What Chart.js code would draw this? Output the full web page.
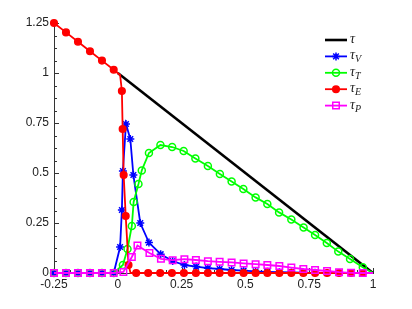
<!doctype html>
<html>
<head>
  <meta charset="UTF-8">
  <script src="https://cdn.jsdelivr.net/npm/chart.js"></script>
  <style>
    html, body { margin: 0; padding: 0; background: #fff; }
    #wrap { width: 412px; height: 309px; }
  </style>
</head>
<body>
<div id="wrap"><canvas id="chart"></canvas></div>
<script>
  // values
  const tauX = [0, 1];
  const tau = [1, 0];

  const vX = [-0.25, -0.203, -0.156, -0.109, -0.062, -0.016, 0.009, 0.016, 0.02, 0.032, 0.049, 0.061, 0.088,
    0.122, 0.168, 0.215, 0.261, 0.307, 0.353, 0.399, 0.446, 0.493, 0.54, 0.586, 0.633, 0.68, 0.727, 0.773,
    0.82, 0.867, 0.914, 0.96, 1];
  const tauV = [0, 0, 0, 0, 0, 0, 0.13, 0.315, 0.51, 0.745, 0.67, 0.49, 0.25,
    0.152, 0.094, 0.06, 0.04, 0.032, 0.024, 0.02, 0.015, 0.012, 0.008, 0.006, 0.004, 0.003, 0.002, 0.001,
    0, 0, 0, 0, 0];

  const tX = [-0.25, -0.203, -0.156, -0.109, -0.062, -0.016, 0.02, 0.038, 0.055, 0.062, 0.081, 0.094, 0.122,
    0.167, 0.213, 0.258, 0.304, 0.353, 0.4, 0.446, 0.492, 0.54, 0.586, 0.632, 0.68, 0.728, 0.773, 0.819,
    0.864, 0.91, 0.96, 1];
  const tauT = [0, 0, 0, 0, 0, 0, 0.04, 0.12, 0.235, 0.355, 0.445, 0.513, 0.6,
    0.64, 0.63, 0.61, 0.573, 0.535, 0.495, 0.457, 0.42, 0.378, 0.345, 0.303, 0.268, 0.227, 0.19, 0.15,
    0.107, 0.07, 0.029, 0];

  const eX = [-0.25, -0.203, -0.156, -0.109, -0.062, -0.016, 0.009, 0.016, 0.019, 0.023, 0.031, 0.042, 0.05,
    0.072, 0.119, 0.166, 0.212, 0.259, 0.306, 0.353, 0.399, 0.446, 0.493, 0.54, 0.586, 0.633, 0.68, 0.727,
    0.773, 0.82, 0.867, 0.914, 0.96, 1];
  const tauE = [1.25, 1.203, 1.156, 1.109, 1.062, 1.016, 0.99, 0.91, 0.72, 0.49, 0.285, 0.04, 0,
    0, 0, 0, 0, 0, 0, 0, 0, 0, 0, 0, 0, 0, 0, 0,
    0, 0, 0, 0, 0, 0];

  const pX = [-0.25, -0.203, -0.156, -0.109, -0.062, -0.016, 0.022, 0.055, 0.077, 0.124, 0.169, 0.215, 0.261,
    0.306, 0.353, 0.399, 0.446, 0.493, 0.54, 0.586, 0.633, 0.68, 0.727, 0.773, 0.82, 0.867, 0.914, 0.96, 1];
  const tauP = [0, 0, 0, 0, 0, 0, 0.005, 0.08, 0.137, 0.1, 0.071, 0.064, 0.069,
    0.065, 0.059, 0.056, 0.053, 0.048, 0.044, 0.04, 0.035, 0.027, 0.02, 0.015, 0.01, 0.004, 0.001, 0, 0];

  const xTicks = [-0.25, 0, 0.25, 0.5, 0.75, 1];
  const yTicks = [0, 0.25, 0.5, 0.75, 1, 1.25];

  const pts = (xs, ys) => xs.map((x, i) => ({ x: x, y: ys[i] }));

  function series(label, sub, xs, ys, color, style, r, fill, bare, order, width) {
    return {
      label: label, sub: sub,
      data: pts(xs, ys),
      showLine: true,
      borderColor: color,
      borderWidth: width || 1.8,
      pointStyle: style,
      pointBorderColor: color,
      pointBackgroundColor: fill ? color : 'rgba(0,0,0,0)',
      pointBorderWidth: 1.5,
      r: r,
      bare: bare,
      pointRadius: c => (c.raw && c.dataset.bare.includes(c.raw.x)) ? 0 : c.dataset.r,
      pointHoverRadius: 0,
      tension: 0,
      clip: false,
      order: order
    };
  }

  const datasets = [
    series('τ', '', tauX, tau, '#000000', false, 0, false, [], 4, 2.6),
    series('τ', 'V', vX, tauV, '#0000ff', 'star', 4, false, [1], 3),
    series('τ', 'T', tX, tauT, '#00ff00', 'circle', 3.5, false, [1], 2),
    series('τ', 'E', eX, tauE, '#ff0000', 'circle', 3.3, true, [0.009, 0.05, 1], 1),
    series('τ', 'P', pX, tauP, '#ff00ff', 'rect', 4.6, false, [1], 0)
  ];

  // inward major / minor ticks like the original axes
  const tickMarks = {
    id: 'tickMarks',
    beforeDatasetsDraw(chart) {
      const c = chart.ctx, xs = chart.scales.x, ys = chart.scales.y;
      const x0 = xs.left, y0 = ys.bottom;
      c.save();
      c.strokeStyle = '#333';
      c.lineWidth = 1;
      c.beginPath();
      for (let v = 0; v <= 1.25001; v += 0.0625) {
        const major = yTicks.some(t => Math.abs(t - v) < 1e-6);
        const py = Math.round(ys.getPixelForValue(v)) + 0.5;
        c.moveTo(x0, py); c.lineTo(x0 + (major ? 5 : 3), py);
      }
      for (let v = -0.25; v <= 1.00001; v += 0.0625) {
        const major = xTicks.some(t => Math.abs(t - v) < 1e-6);
        const px = Math.round(xs.getPixelForValue(v)) + 0.5;
        c.moveTo(px, y0); c.lineTo(px, y0 - (major ? 5 : 3));
      }
      c.stroke();
      c.restore();
    }
  };

  // legend with subscripts
  const subLegend = {
    id: 'subLegend',
    afterDraw(chart) {
      const c = chart.ctx;
      const x1 = 325, x2 = 347, tx = 350;
      c.save();
      chart.data.datasets.forEach((d, i) => {
        const y = 40 + i * 16.4;
        c.strokeStyle = d.borderColor;
        c.lineWidth = d.borderWidth;
        c.beginPath(); c.moveTo(x1, y); c.lineTo(x2, y); c.stroke();
        if (d.pointStyle) {
          c.fillStyle = d.pointBackgroundColor;
          c.lineWidth = d.pointBorderWidth;
          Chart.helpers.drawPoint(c, { pointStyle: d.pointStyle, radius: d.r, rotation: 0, borderWidth: d.pointBorderWidth }, (x1 + x2) / 2, y);
        }
        c.fillStyle = '#222';
        c.textBaseline = 'alphabetic';
        c.font = 'italic 14px "Liberation Serif"';
        c.fillText(d.label, tx, y + 3);
        if (d.sub) {
          const w = c.measureText(d.label).width;
          c.font = 'italic 10px "Liberation Serif"';
          c.fillText(d.sub, tx + w, y + 6);
        }
      });
      c.restore();
    }
  };

  const tickFont = { family: '"Liberation Sans", Arial, sans-serif', size: 12 };
  const fmt = v => String(Number(Number(v).toFixed(2)));

  new Chart(document.getElementById('chart'), {
    type: 'scatter',
    data: { datasets: datasets },
    plugins: [tickMarks, subLegend],
    options: {
      responsive: true,
      maintainAspectRatio: false,
      animation: false,
      layout: { padding: { top: 23, right: 39, left: 0, bottom: 0 } },
      plugins: { legend: { display: false }, tooltip: { enabled: false } },
      scales: {
        x: {
          type: 'linear', min: -0.25, max: 1,
          afterBuildTicks: s => { s.ticks = xTicks.map(v => ({ value: v })); },
          ticks: { font: tickFont, color: '#222', padding: 4, maxRotation: 0, callback: fmt },
          grid: { display: true, drawOnChartArea: false, drawTicks: false },
          border: { display: true, color: '#333', width: 1 },
          afterFit: s => { s.height = 36; }
        },
        y: {
          type: 'linear', min: 0, max: 1.25,
          afterBuildTicks: s => { s.ticks = yTicks.map(v => ({ value: v })); },
          ticks: { font: tickFont, color: '#222', padding: 5, callback: fmt },
          grid: { display: true, drawOnChartArea: false, drawTicks: false },
          border: { display: true, color: '#333', width: 1 },
          afterFit: s => { s.width = 54; }
        }
      }
    }
  });
</script>
</body>
</html>
